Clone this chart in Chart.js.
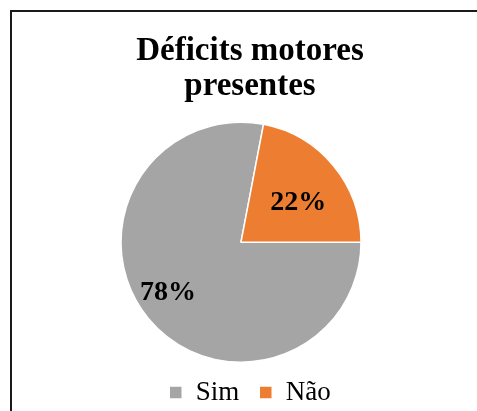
<!DOCTYPE html>
<html lang="pt">
  <head>
    <meta charset="UTF-8" />
    <title>Déficits motores presentes</title>
    <style>
      html,
      body {
        margin: 0;
        background: #fff;
        overflow: hidden;
        width: 477px;
        height: 411px;
      }
      #frame {
        position: absolute;
        left: 10px;
        top: 10px;
        width: 470px;
        height: 404px;
        border-left: 2px solid #1a1a1a;
        border-top: 2px solid #1a1a1a;
      }
      #box {
        position: relative;
        width: 476px;
        height: 404px;
      }
    </style>
  </head>
  <body>
    <div id="frame">
      <div id="box"><canvas id="chart"></canvas></div>
    </div>

    <script src="https://cdn.jsdelivr.net/npm/chart.js@4.4.1/dist/chart.umd.min.js"></script>
    <script>
      const title_lines = ["Déficits motores", "presentes"];
      const categories = ["Sim", "Não"];
      const values = [78, 22];
      const colors = ["#A5A5A5", "#ED7D31"];

      const serif = "'Liberation Serif', 'Times New Roman', serif";

      // pie sits a bit left of the title in the original
      const shift_area = {
        id: "shift_area",
        afterLayout: chart => {
          chart.chartArea.left -= 9;
          chart.chartArea.right -= 9;
        },
      };

      // percent labels inside the slices
      const pct_labels = {
        id: "pct_labels",
        afterDatasetsDraw: (chart, args, opts) => {
          const ctx = chart.ctx;
          const meta = chart.getDatasetMeta(0);
          ctx.save();
          ctx.font = "bold 28px " + serif;
          ctx.fillStyle = "#000";
          ctx.textAlign = "center";
          ctx.textBaseline = "middle";
          meta.data.forEach((arc, i) => {
            const p = arc.getProps(["x", "y", "startAngle", "endAngle", "outerRadius"], true);
            const a = (p.startAngle + p.endAngle) / 2 + (opts.shift * Math.PI) / 180;
            const r = p.outerRadius * opts.radius[i];
            ctx.fillText(values[i] + "%", p.x + Math.cos(a) * r, p.y + Math.sin(a) * r);
          });
          ctx.restore();
        },
      };

      const chart = new Chart(document.getElementById("chart"), {
        type: "pie",
        data: {
          labels: categories,
          datasets: [
            {
              data: values,
              backgroundColor: colors,
              borderColor: "#fff",
              borderWidth: 1.5,
              radius: 120,
              clip: false,
            },
          ],
        },
        options: {
          responsive: true,
          maintainAspectRatio: false,
          animation: false,
          rotation: 90,
          layout: { padding: 0 },
          plugins: {
            title: {
              display: true,
              text: title_lines,
              color: "#000",
              font: { family: serif, size: 33, weight: "bold", lineHeight: 1.06 },
              padding: { top: 21.5, bottom: 22 },
            },
            legend: {
              position: "bottom",
              labels: {
                boxWidth: 13,
                boxHeight: 13,
                padding: 20,
                color: "#000",
                font: { family: serif, size: 27 },
              },
            },
            tooltip: { enabled: false },
            pct_labels: { radius: [0.74, 0.58], shift: 5 },
          },
        },
        plugins: [shift_area, pct_labels],
      });
    </script>
  </body>
</html>
